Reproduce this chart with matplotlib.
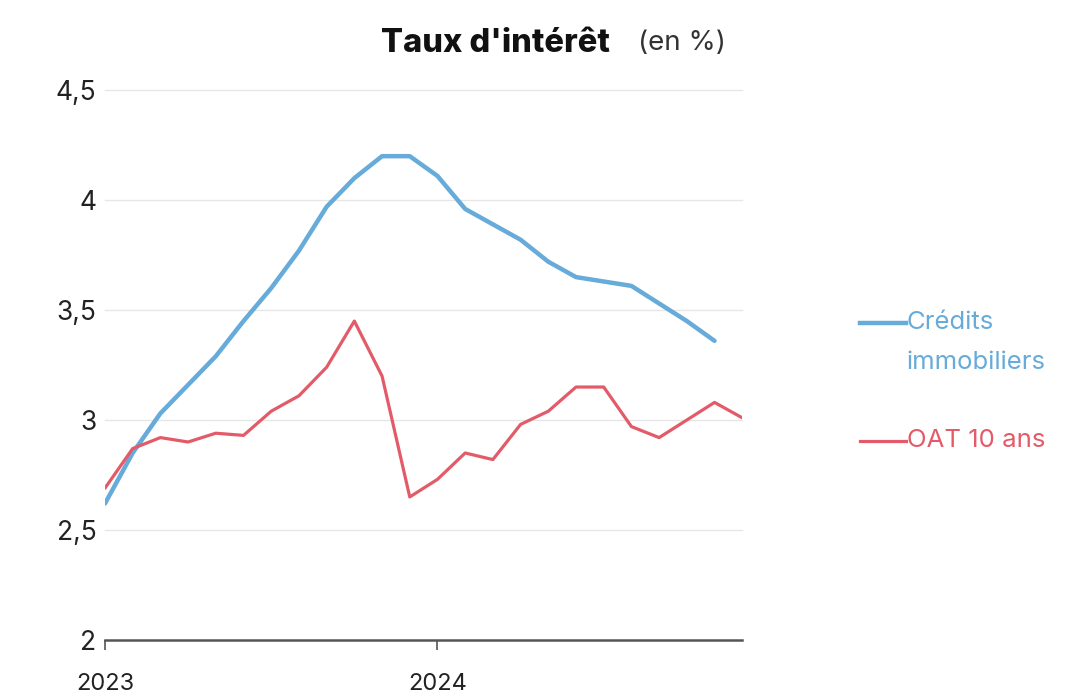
import numpy as np
import matplotlib
matplotlib.use("Agg")
import matplotlib.pyplot as plt
from matplotlib.lines import Line2D

# monthly values, Jan 2023 -> Dec 2024 (month index 0..23)
credits = [2.62, 2.85, 3.03, 3.16, 3.29, 3.45, 3.60, 3.77, 3.97, 4.10, 4.20, 4.20,
           4.11, 3.96, 3.89, 3.82, 3.72, 3.65, 3.63, 3.61, 3.53, 3.45, 3.36]
oat10 = [2.69, 2.87, 2.92, 2.90, 2.94, 2.93, 3.04, 3.11, 3.24, 3.45, 3.20, 2.65,
         2.73, 2.85, 2.82, 2.98, 3.04, 3.15, 3.15, 2.97, 2.92, 3.00, 3.08, 3.01]
year_ticks = [0, 12]
year_labels = ["2023", "2024"]
y_ticks = [2, 2.5, 3, 3.5, 4, 4.5]
y_labels = ["2", "2,5", "3", "3,5", "4", "4,5"]

blue = "#66abd9"
red = "#e35b68"

plt.rcParams['font.family'] = ['Inter', 'DejaVu Sans']

fig = plt.figure(figsize=(10.82, 6.94), dpi=100)
ax = fig.add_axes([0.097, 0.078, 0.589, 0.792])

ax.plot(range(len(credits)), credits, color=blue, lw=3.2, solid_capstyle='round', solid_joinstyle='round')
ax.plot(range(len(oat10)), oat10, color=red, lw=2.3, solid_capstyle='round', solid_joinstyle='round')

ax.set_xlim(0, 23)
ax.set_ylim(2, 4.5)
ax.set_yticks(y_ticks)
ax.set_yticklabels(y_labels)
ax.set_xticks(year_ticks)
ax.set_xticklabels(year_labels)

for v in y_ticks[1:]:
    ax.axhline(v, color="#e6e6e6", lw=1, zorder=0, clip_on=False)

for s in ['top', 'right', 'left']:
    ax.spines[s].set_visible(False)
ax.spines['bottom'].set_color('#555555')
ax.spines['bottom'].set_linewidth(1.8)

ax.tick_params(axis='y', length=0, pad=6, labelsize=19, labelcolor='#222222')
ax.tick_params(axis='x', length=7, width=1.2, color='#555555', pad=17, labelsize=17, labelcolor='#222222')

# title
fig.text(0.564, 0.938, "Taux d'intérêt", fontsize=23.5, fontweight='heavy', ha='right', va='center', color='#111111')
fig.text(0.59, 0.938, "(en %)", fontsize=20, ha='left', va='center', color='#333333')

# legend drawn at the right
fig.add_artist(Line2D([0.795, 0.837], [0.535, 0.535], color=blue, lw=3.2, transform=fig.transFigure))
fig.text(0.838, 0.535, "Crédits", color=blue, fontsize=18.5, ha='left', va='center', transform=fig.transFigure)
fig.text(0.838, 0.478, "immobiliers", color=blue, fontsize=18.5, ha='left', va='center', transform=fig.transFigure)
fig.add_artist(Line2D([0.795, 0.837], [0.365, 0.365], color=red, lw=2.3, transform=fig.transFigure))
fig.text(0.838, 0.365, "OAT 10 ans", color=red, fontsize=18.5, ha='left', va='center', transform=fig.transFigure)

fig.savefig("out.png", dpi=100)
